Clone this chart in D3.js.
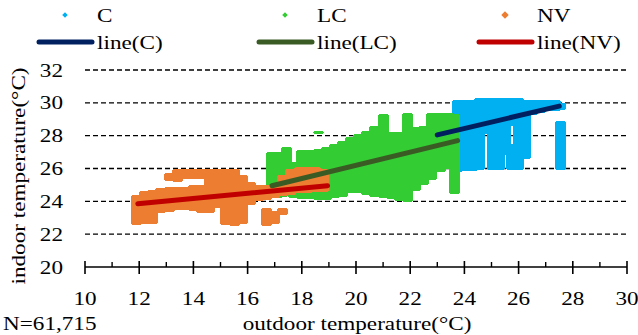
<!DOCTYPE html>
<html>
<head>
<meta charset="utf-8">
<script src="https://cdn.jsdelivr.net/npm/d3@7"></script>
<style>
  body { margin: 0; background: #fff; }
  svg text { font-family: "Liberation Serif", "Times New Roman", serif; fill: #000; }
</style>
</head>
<body>
<svg id="chart" width="638" height="335"></svg>
<script>
// tick labels
const xTicks = [10, 12, 14, 16, 18, 20, 22, 24, 26, 28, 30];
const yTicks = [20, 22, 24, 26, 28, 30, 32];

// scatter clouds: [outdoor, indoor low, indoor high]
const cPts = [
  [23.75, 25.8, 30.2], [24.0, 25.9, 30.2], [24.3, 25.9, 30.2], [24.55, 25.9, 30.3],
  [24.8, 28.1, 30.3], [25.05, 25.9, 30.3], [25.3, 25.9, 30.3], [25.5, 26.8, 30.3],
  [25.75, 25.9, 27.5], [25.75, 28.6, 30.3], [26.0, 25.9, 30.3], [26.25, 26.6, 30.2],
  [26.5, 29.3, 30.2], [26.8, 29.4, 30.2], [27.1, 29.5, 30.2], [27.35, 29.5, 30.2],
  [27.55, 25.9, 28.9], [27.55, 29.6, 30.0]
];
const lcPts = [
  [16.9, 24.2, 27.0], [17.1, 24.2, 27.0], [17.3, 24.3, 26.3], [17.45, 24.3, 27.3],
  [17.7, 24.2, 26.4], [18.0, 24.1, 27.1], [18.3, 24.1, 27.1], [18.6, 24.1, 27.2],
  [18.6, 28.1, 28.3], [18.9, 24.1, 27.3], [19.2, 24.2, 27.5], [19.5, 24.3, 27.7],
  [19.8, 24.5, 27.9], [20.1, 24.5, 28.1], [20.4, 24.4, 28.3], [20.7, 24.3, 28.6],
  [21.0, 24.2, 29.3], [21.3, 24.1, 28.2], [21.6, 24.0, 28.2], [21.9, 24.0, 29.4],
  [22.2, 24.6, 28.5], [22.5, 25.0, 28.6], [22.8, 25.3, 29.4], [23.1, 25.8, 29.4],
  [23.4, 26.0, 29.4], [23.65, 24.4, 29.3]
];
const nvPts = [
  [11.9, 22.6, 24.4], [12.2, 22.6, 24.6], [12.5, 22.6, 24.7], [12.8, 23.3, 24.8],
  [13.1, 23.4, 24.9], [13.1, 25.2, 25.7], [13.4, 23.5, 24.9], [13.4, 25.2, 26.0],
  [13.7, 23.5, 24.9], [13.7, 25.4, 26.0], [14.0, 23.4, 25.0], [14.0, 25.4, 26.0],
  [14.3, 23.3, 25.0], [14.3, 25.4, 26.0], [14.6, 23.3, 26.0], [14.9, 23.6, 26.0],
  [15.2, 22.6, 26.0], [15.5, 22.5, 26.0], [15.8, 22.6, 25.6], [16.1, 23.8, 25.2],
  [16.4, 24.0, 25.0], [16.7, 22.5, 23.6], [16.7, 24.1, 25.0], [17.0, 22.6, 23.4],
  [17.0, 24.2, 25.0], [17.3, 23.2, 23.6], [17.3, 24.3, 25.6], [17.6, 24.4, 26.0],
  [17.9, 24.5, 26.1], [18.2, 24.5, 26.1], [18.5, 24.6, 26.1], [18.8, 24.6, 26.0]
];

// fitted lines, end points
const fitC  = [[23.0, 28.05], [27.5, 29.8]];
const fitLC = [[16.9, 24.95], [23.75, 27.7]];
const fitNV = [[11.95, 23.85], [18.95, 24.95]];

const series = [
  { name: 'C',  pts: cPts,  color: '#00b0f0', fit: fitC,  lineColor: '#002060', mk: 3 },
  { name: 'LC', pts: lcPts, color: '#33cc33', fit: fitLC, lineColor: '#3b5b25', mk: 3 },
  { name: 'NV', pts: nvPts, color: '#ed7d31', fit: fitNV, lineColor: '#c00000', mk: 4 }
];

const svg = d3.select('#chart');
const x = d3.scaleLinear().domain([10, 30]).range([85, 627]);
const y = d3.scaleLinear().domain([20, 32]).range([267, 70]);
const fs = 19, sx = 1.22;

function label(px, py, str, anchor, rot) {
  const g = svg.append('g')
    .attr('transform', `translate(${px},${py}) rotate(${rot || 0}) scale(${sx},1)`);
  g.append('text').attr('text-anchor', anchor || 'start')
    .attr('font-size', fs).text(str);
}

// grid lines
svg.append('g').selectAll('line')
  .data(yTicks.filter(d => d > 20))
  .join('line')
  .attr('x1', x(10)).attr('x2', x(30))
  .attr('y1', d => y(d)).attr('y2', d => y(d))
  .attr('stroke', '#000').attr('stroke-width', 1.3)
  .attr('stroke-dasharray', '5,3');

// x axis
const xAxis = svg.append('g');
xAxis.append('line').attr('x1', x(10)).attr('x2', x(30))
  .attr('y1', y(20)).attr('y2', y(20)).attr('stroke', '#000').attr('stroke-width', 1.6);
xAxis.selectAll('.major').data(xTicks).join('line').attr('class', 'major')
  .attr('x1', d => x(d)).attr('x2', d => x(d))
  .attr('y1', y(20) - 6).attr('y2', y(20) + 7)
  .attr('stroke', '#000').attr('stroke-width', 1.6);
xAxis.selectAll('.minor').data(d3.range(11, 30, 2)).join('line').attr('class', 'minor')
  .attr('x1', d => x(d)).attr('x2', d => x(d))
  .attr('y1', y(20) - 5).attr('y2', y(20))
  .attr('stroke', '#000').attr('stroke-width', 1.4);
xTicks.forEach(d => label(x(d), 305, d, 'middle'));
yTicks.forEach(d => label(63, y(d) + 6.5, d, 'end'));

// scatter clouds: one rounded column per entry
const W = 11;
series.forEach(s => {
  svg.append('g').attr('shape-rendering', 'crispEdges').selectAll('rect')
    .data(s.pts)
    .join('rect')
    .attr('x', d => Math.round(x(d[0]) - W / 2))
    .attr('width', W)
    .attr('y', d => Math.round(y(d[2])))
    .attr('height', d => Math.max(3, Math.round(y(d[1]) - y(d[2]))))
    .attr('rx', 3)
    .attr('fill', s.color);
});

// fitted lines
series.forEach(s => {
  svg.append('line')
    .attr('x1', x(s.fit[0][0])).attr('y1', y(s.fit[0][1]))
    .attr('x2', x(s.fit[1][0])).attr('y2', y(s.fit[1][1]))
    .attr('stroke', s.lineColor).attr('stroke-width', 5)
    .attr('stroke-linecap', 'round');
});

// legend
const legX = [65, 285, 505];
series.forEach((s, i) => {
  const cx = legX[i];
  svg.append('path')
    .attr('d', d3.symbol(d3.symbolDiamond2, s.mk * s.mk * 2.2)())
    .attr('transform', `translate(${cx},15)`)
    .attr('fill', s.color);
  label(cx + 32, 22, s.name);
  svg.append('line')
    .attr('x1', cx - 26).attr('x2', cx + 27)
    .attr('y1', 42).attr('y2', 42)
    .attr('stroke', s.lineColor).attr('stroke-width', 5)
    .attr('stroke-linecap', 'round');
  label(cx + 32, 49, `line(${s.name})`);
});

// axis titles
label(357, 330, 'outdoor temperature(°C)', 'middle');
label(25, 176, 'indoor temperature(°C)', 'middle', -90);
label(3, 330, 'N=61,715');
</script>
</body>
</html>
